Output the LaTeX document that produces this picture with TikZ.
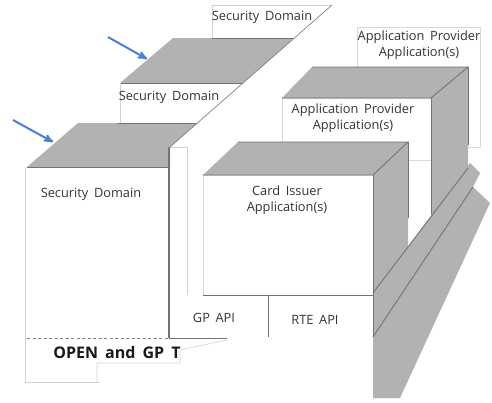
\documentclass[tikz,border=0pt]{standalone}
\usepackage{fontspec}
\setmainfont{Open Sans}[WordSpace=1.7]
\usepackage{tikz}
\usetikzlibrary{arrows,positioning}
\definecolor{pointblue}{RGB}{72,128,214}
\tikzset{
    %Define standard arrow tip
    >=stealth',
    %Define style for the gray faces
    face/.style={
           fill=black!30,
           draw=none},
    frontface/.style={
           fill=white,
           draw=black!15,
           line width=0.6pt},
    edgeline/.style={
           draw=black!55,
           line width=0.9pt},
    faintline/.style={
           draw=black!18,
           line width=0.6pt},
    boxtext/.style={
           font=\fontsize{12.8}{16}\selectfont,
           text=black!80,
           align=center,
           inner sep=0pt},
    % Define arrow style
    pointer/.style={
           ->,
           draw=pointblue,
           line width=2pt}
}
\begin{document}
\begin{tikzpicture}[x=1pt,y=-1pt]
\useasboundingbox (0,0) rectangle (492,402);
% application provider boxes
\filldraw[frontface] (357,27) rectangle (480,147);
\filldraw[frontface] (282,98) rectangle (431,160);
\fill[face] (282,98) -- (312,67) -- (468,67) -- (431,98) -- cycle;
\fill[face] (431,98) -- (468,67) -- (468,168) -- (431,216) -- cycle;
\draw[edgeline] (282,98) -- (431,98) -- (468,67) -- (312,67);
\draw[edgeline] (431,98) -- (431,214);
\draw[edgeline] (468,67) -- (468,145);
% security domains
\draw[faintline] (212,38) -- (212,5) -- (332,5);
\fill[face] (120,83) -- (173,38) -- (294,38) -- (243,83) -- cycle;
\draw[edgeline] (120,83) -- (243,83);
\draw[edgeline] (212,38) -- (294,38);
\draw[faintline] (120,83) -- (120,123);
\fill[face] (27,167) -- (78,123) -- (197,123) -- (170,147) -- (170,167) -- cycle;
\draw[edgeline] (118,123) -- (197,123);
\draw[edgeline] (27,167) -- (168,167);
\draw[faintline] (25,167) -- (25,382) -- (100,382);
\draw[black!50, line width=0.7pt] (332,5) -- (170,147);
\draw[faintline] (170,147) -- (187,147) -- (187,295);
\draw[black!55, line width=1.8pt] (169,147) -- (169,338);
\draw[black!50, dash pattern=on 3pt off 2.5pt] (27,338) -- (168,338);
\draw[edgeline] (169,338) -- (227,338);
\draw[faintline] (97,383) -- (97,363) -- (180,363) -- (180,350) -- (227,340);
% card issuer box and base
\filldraw[frontface] (203,175) rectangle (373,295);
\fill[face] (203,175) -- (238,142) -- (408,142) -- (373,175) -- cycle;
\fill[face] (373,175) -- (408,142) -- (408,247) -- (373,293) -- cycle;
\fill[face] (373,293) -- (408,247) -- (470,163) -- (480,173) -- (473,187)
    -- (490,203) -- (400,398) -- (373,398) -- cycle;
\draw[edgeline] (203,175) -- (373,175) -- (408,142) -- (238,142);
\draw[edgeline] (373,175) -- (373,337);
\draw[edgeline] (408,142) -- (408,218);
\draw[edgeline] (203,295) -- (373,295);
\draw[edgeline] (373,293) -- (468,168);
\draw[edgeline] (373,337) -- (473,187);
\draw[edgeline] (268,295) -- (268,337);
% texts
\node[boxtext] (sdtop) at (262,17) {Security Domain};
\node[boxtext] (sdmid) at (169,97) {Security Domain};
\node[boxtext] (sdlow) at (91,194) {Security Domain};
\node[boxtext] (apback) at (419,45) {Application Provider\\Application(s)};
\node[boxtext] (apmid) at (353,118) {Application Provider\\Application(s)};
\node[boxtext] (cardissuer) at (287,200) {Card Issuer\\Application(s)};
\node[boxtext] (gpapi) at (214,318) {GP API};
\node[boxtext] (rteapi) at (315,320) {RTE API};
\node[font=\fontsize{16}{18}\selectfont\bfseries, text=black!90, inner sep=0pt]
    (opengp) at (117,352) {OPEN and GP T};
% pointers
\coordinate (tail1) at (108,37);
\coordinate (tip1) at (147,59);
\coordinate (tail2) at (13,120);
\coordinate (tip2) at (53,142);
\draw[pointer] (tail1) -- (tip1);
\draw[pointer] (tail2) -- (tip2);
\end{tikzpicture}
\end{document}
